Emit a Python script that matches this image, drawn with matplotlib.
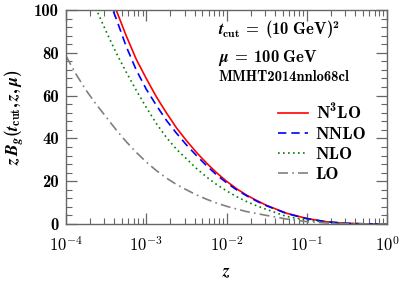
import numpy as np
import matplotlib
matplotlib.use('Agg')
import matplotlib.pyplot as plt
from matplotlib.ticker import LogLocator, MultipleLocator, FuncFormatter, NullFormatter

plt.rcParams['font.family'] = ['cmb10', 'DejaVu Serif']
plt.rcParams['mathtext.fontset'] = 'cm'
plt.rcParams['mathtext.rm'] = 'cmb10'
plt.rcParams['mathtext.bf'] = 'cmb10'
plt.rcParams['mathtext.it'] = 'STIXGeneral:italic:bold'

# log10(z) grid and values (nan = above the frame)
logz = [-4.0, -3.875, -3.75, -3.625, -3.5, -3.375, -3.25, -3.125, -3.0, -2.875,
        -2.75, -2.625, -2.5, -2.375, -2.25, -2.125, -2.0, -1.875, -1.75, -1.625,
        -1.5, -1.25, -1.0, -0.75, -0.5, -0.25, 0.0]
nan = np.nan
n3lo = [nan, nan, nan, nan, 110, 100, 88, 77, 68, 59.5,
        52, 45, 39, 33.5, 28.5, 24, 20, 16.5, 13.5, 11,
        8.7, 5.0, 2.6, 1.0, 0.3, 0.05, 0]
nnlo = [nan, nan, nan, nan, 108, 96, 83, 72, 63, 55.5,
        48.5, 42.5, 37, 32, 27.3, 23, 19.3, 16, 13.2, 10.7,
        8.5, 4.9, 2.5, 1.0, 0.3, 0.05, 0]
nlo = [nan, nan, 112, 100.5, 90, 80, 71, 62.5, 54.5, 47,
       40.5, 35, 30.5, 26, 22, 18.5, 15.5, 12.8, 10.5, 8.5,
       6.8, 3.5, 1.9, 0.8, 0.25, 0.04, 0]
lo = [78.5, 70, 62.5, 56, 50, 44, 38.5, 33.5, 29, 25,
      21.5, 18.5, 16, 13.6, 11.6, 9.8, 8.3, 7.0, 5.8, 4.9,
      4.0, 2.3, 1.1, 0.45, 0.12, 0.02, 0]

z = 10.0 ** np.array(logz)

fig = plt.figure(figsize=(4.07, 2.81), dpi=100)
ax = fig.add_axes([66/407, 1-224/281, 321/407, 214/281])

ax.plot(z, n3lo, color='red', lw=1.2, label=r'N$^{\mathrm{3}}$LO')
ax.plot(z, nnlo, color='blue', lw=1.2, ls=(0, (5, 3)), label='NNLO')
ax.plot(z, nlo, color='green', lw=1.2, ls=(0, (1, 2)), label='NLO')
ax.plot(z, lo, color='gray', lw=1.2, ls=(0, (6, 2.5, 1, 2.5)), label='LO')

ax.set_xscale('log')
ax.set_xlim(1e-4, 1)
ax.set_ylim(0, 100)
ax.xaxis.set_major_locator(LogLocator(base=10, numticks=10))
ax.xaxis.set_minor_locator(LogLocator(base=10, subs=np.arange(2, 10), numticks=20))
ax.xaxis.set_major_formatter(FuncFormatter(lambda v, p: r'$\mathbf{10^{%d}}$' % round(np.log10(v))))
ax.xaxis.set_minor_formatter(NullFormatter())
ax.yaxis.set_major_locator(MultipleLocator(20))
ax.yaxis.set_minor_locator(MultipleLocator(4))

for s in ax.spines.values():
    s.set_color('#666666')
    s.set_linewidth(1.0)
ax.tick_params(which='both', direction='in', top=True, right=True, color='#666666', labelsize=12)
ax.tick_params(axis='x', pad=8)
ax.tick_params(axis='y', pad=5)
ax.tick_params(which='major', length=8, width=0.9)
ax.tick_params(which='minor', length=4, width=0.8)

ax.set_xlabel(r'$z$', fontsize=12.5, labelpad=8, math_fontfamily='custom')
ax.set_ylabel(r'$z\,B_g(t_{\mathrm{cut}}, z, \mu)$', fontsize=12.5, labelpad=6, math_fontfamily='custom')

ax.text(0.474, 0.883, r'$t_{\mathrm{cut}}\;=\;(10\ \mathrm{GeV})^2$', transform=ax.transAxes,
        fontsize=12, va='baseline', math_fontfamily='custom')
ax.text(0.474, 0.756, r'$\mu\;=\;100\ \mathrm{GeV}$', transform=ax.transAxes,
        fontsize=12, va='baseline', math_fontfamily='custom')
ax.text(0.474, 0.668, 'MMHT2014nnlo68cl', transform=ax.transAxes, fontsize=10.5, va='baseline')

leg = ax.legend(loc='upper left', bbox_to_anchor=(0.64, 0.60), frameon=False, fontsize=12.5,
                handlelength=1.7, handletextpad=0.45, labelspacing=0.28, borderaxespad=0.0)
for t in leg.get_texts():
    t.set_math_fontfamily('custom')

fig.savefig('out.png', dpi=100)
